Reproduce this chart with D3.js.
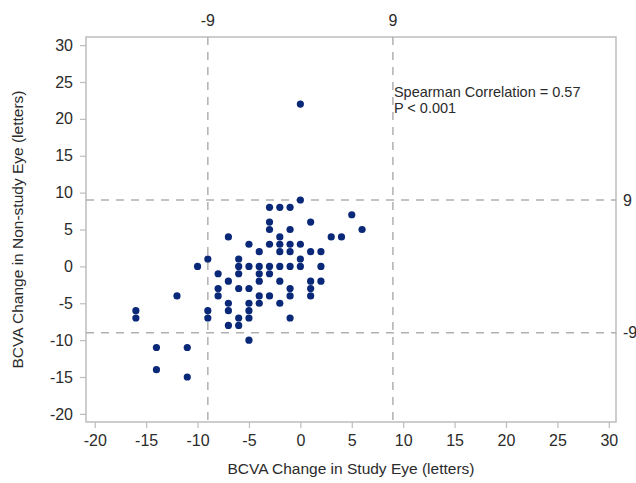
<!DOCTYPE html>
<html>
<head>
<meta charset="utf-8">
<script src="https://cdn.jsdelivr.net/npm/d3@7"></script>
<style>
  body { margin: 0; background: #fff; }
  text { font-family: "Liberation Sans", Arial, sans-serif; fill: #2b2b2b; }
</style>
</head>
<body>
<div id="chart"></div>
<script>
// BCVA change, study eye (x) vs non-study eye (y), letters
const studyEye = [-16, -16, -14, -14, -12, -11, -11, -10, -9, -9, -9,
  -8, -8, -8, -7, -7, -7, -7, -7, -6, -6, -6, -6, -6, -6,
  -5, -5, -5, -5, -5, -5, -5, -4, -4, -4, -4, -4, -4,
  -3, -3, -3, -3, -3, -3, -3, -2, -2, -2, -2, -2, -2, -2,
  -1, -1, -1, -1, -1, -1, -1, -1, 0, 0, 0, 0, 0,
  1, 1, 1, 1, 1, 2, 2, 2, 3, 4, 5, 6]
const nonStudyEye = [-6, -7, -11, -14, -4, -11, -15, 0, 1, -6, -7,
  -1, -3, -4, 4, -2, -5, -6, -8, 1, 0, -1, -3, -7, -8,
  3, 0, -3, -5, -6, -7, -10, 2, 0, -1, -2, -4, -5,
  8, 6, 5, 3, 0, -1, -4, 8, 4, 3, 2, 0, -2, -5,
  8, 5, 3, 2, 0, -3, -4, -7, 22, 9, 3, 1, 0,
  6, 2, -2, -3, -4, 2, 0, -2, 4, 4, 7, 5]
const xTicks = [-20, -15, -10, -5, 0, 5, 10, 15, 20, 25, 30]
const yTicks = [-20, -15, -10, -5, 0, 5, 10, 15, 20, 25, 30]
const cutoffs = [-9, 9]
const statLines = ["Spearman Correlation = 0.57", "P < 0.001"]

let points = studyEye.map((d, i) => ({x: d, y: nonStudyEye[i]}))

let W = 636, H = 483
let PLOT = {LEFT: 86, RIGHT: 616, TOP: 37, BOTTOM: 422}
let fmt = d => String(d)   // plain hyphen, not the unicode minus

let svg = d3.select("#chart").append("svg")
  .attr("width", W)
  .attr("height", H)

let x = d3.scaleLinear().domain([-20.85, 30.7]).range([PLOT.LEFT, PLOT.RIGHT])
let y = d3.scaleLinear().domain([-21.1, 31.1]).range([PLOT.BOTTOM, PLOT.TOP])

// frame
svg.append("rect")
  .attr("x", PLOT.LEFT)
  .attr("y", PLOT.TOP)
  .attr("width", PLOT.RIGHT - PLOT.LEFT)
  .attr("height", PLOT.BOTTOM - PLOT.TOP)
  .attr("fill", "none")
  .attr("stroke", "#bdbdbd")
  .attr("stroke-width", 1.5)

// axes
svg.append("g")
  .attr("transform", `translate(0, ${PLOT.BOTTOM})`)
  .call(d3.axisBottom(x).tickValues(xTicks).tickFormat(fmt).tickSize(6).tickPadding(7))
svg.append("g")
  .attr("transform", `translate(${PLOT.LEFT}, 0)`)
  .call(d3.axisLeft(y).tickValues(yTicks).tickFormat(fmt).tickSize(6).tickPadding(7))

svg.selectAll(".domain").remove()
svg.selectAll(".tick line").attr("stroke", "#bdbdbd").attr("stroke-width", 1.2)
svg.selectAll(".tick text")
  .attr("font-size", "16px")
  .attr("fill", "#2b2b2b")
  .style("font-family", "'Liberation Sans', Arial, sans-serif")

// reference lines at +/- 9
svg.selectAll(".vcut")
  .data(cutoffs)
  .enter().append("line")
  .attr("x1", d => x(d)).attr("x2", d => x(d))
  .attr("y1", PLOT.TOP).attr("y2", PLOT.BOTTOM)
  .attr("stroke", "#b0b0b0")
  .attr("stroke-width", 1.5)
  .attr("stroke-dasharray", "8,7")

svg.selectAll(".hcut")
  .data(cutoffs)
  .enter().append("line")
  .attr("y1", d => y(d)).attr("y2", d => y(d))
  .attr("x1", PLOT.LEFT).attr("x2", PLOT.RIGHT)
  .attr("stroke", "#b0b0b0")
  .attr("stroke-width", 1.5)
  .attr("stroke-dasharray", "8,7")

svg.selectAll(".vlab")
  .data(cutoffs)
  .enter().append("text")
  .attr("x", d => x(d))
  .attr("y", PLOT.TOP - 11)
  .attr("text-anchor", "middle")
  .attr("font-size", "16px")
  .text(fmt)

svg.selectAll(".hlab")
  .data(cutoffs)
  .enter().append("text")
  .attr("x", PLOT.RIGHT + 7)
  .attr("y", d => y(d))
  .attr("dy", "0.35em")
  .attr("font-size", "16px")
  .text(fmt)

// points
svg.selectAll("circle")
  .data(points)
  .enter().append("circle")
  .attr("cx", d => x(d.x))
  .attr("cy", d => y(d.y))
  .attr("r", 3.6)
  .attr("fill", "#0a2878")

// stats
svg.selectAll(".stat")
  .data(statLines)
  .enter().append("text")
  .attr("x", x(9) + 1)
  .attr("y", (d, i) => 97 + i * 16)
  .attr("font-size", "14.5px")
  .text(d => d)

// axis titles
svg.append("text")
  .attr("x", (PLOT.LEFT + PLOT.RIGHT) / 2)
  .attr("y", 474)
  .attr("text-anchor", "middle")
  .attr("font-size", "15.5px")
  .text("BCVA Change in Study Eye (letters)")

svg.append("text")
  .attr("transform", `translate(23, ${(PLOT.TOP + PLOT.BOTTOM) / 2}) rotate(-90)`)
  .attr("text-anchor", "middle")
  .attr("font-size", "15.5px")
  .text("BCVA Change in Non-study Eye (letters)")
</script>
</body>
</html>
